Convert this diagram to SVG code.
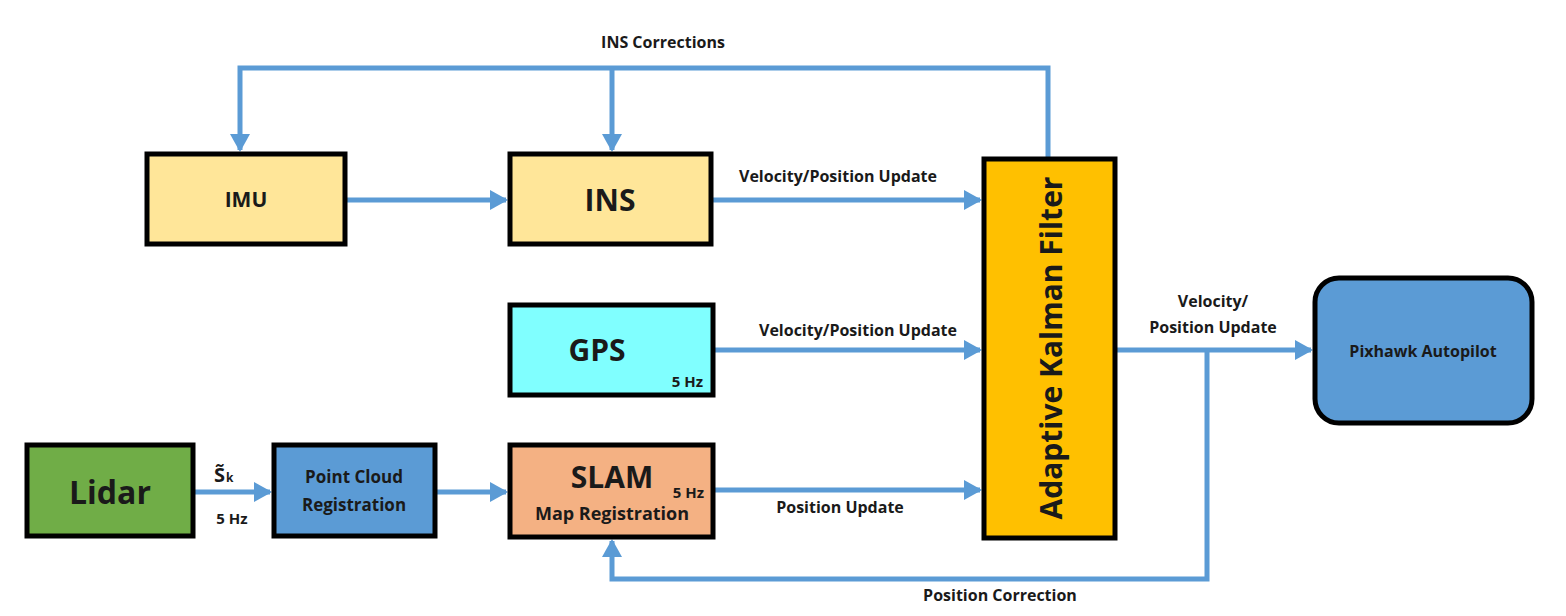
<svg xmlns="http://www.w3.org/2000/svg" width="1566" height="616" viewBox="0 0 1566 616">
<style>
.box{stroke:#000;stroke-width:5}
.t{font-family:"Open Sans","Liberation Sans",sans-serif;font-weight:bold;fill:#1a1a1a}
.c{stroke:#5b9bd5;stroke-width:5;fill:none}
</style>
<defs>
<marker id="ah" viewBox="0 0 18 20" refX="16" refY="10" markerWidth="18" markerHeight="20" markerUnits="userSpaceOnUse" orient="auto">
<path d="M0,0 L18,10 L0,20 Z" fill="#5b9bd5"/>
</marker>
</defs>
<rect width="1566" height="616" fill="#fff"/>
<g id="connectors">
<polyline class="c" points="1048,157 1048,68 240,68 240,150" marker-end="url(#ah)"/>
<polyline class="c" points="612,68 612,150" marker-end="url(#ah)"/>
<line class="c" x1="347" y1="200" x2="506" y2="200" marker-end="url(#ah)"/>
<line class="c" x1="713" y1="200" x2="980" y2="200" marker-end="url(#ah)"/>
<line class="c" x1="713" y1="350" x2="980" y2="350" marker-end="url(#ah)"/>
<line class="c" x1="713" y1="490" x2="980" y2="490" marker-end="url(#ah)"/>
<line class="c" x1="195" y1="492" x2="270" y2="492" marker-end="url(#ah)"/>
<line class="c" x1="437" y1="492" x2="506" y2="492" marker-end="url(#ah)"/>
<line class="c" x1="1117" y1="350" x2="1311" y2="350" marker-end="url(#ah)"/>
<polyline class="c" points="1207,350 1207,579 612,579 612,541" marker-end="url(#ah)"/>
<text class="t" x="663" y="48" font-size="16" text-anchor="middle">INS Corrections</text>
<text class="t" x="838" y="182" font-size="16" text-anchor="middle">Velocity/Position Update</text>
<text class="t" x="858" y="336" font-size="16" text-anchor="middle">Velocity/Position Update</text>
<text class="t" x="840" y="513" font-size="16" text-anchor="middle">Position Update</text>
<text class="t" x="1000" y="601" font-size="16" text-anchor="middle">Position Correction</text>
<text class="t" x="1213" y="307" font-size="16" text-anchor="middle">Velocity/</text>
<text class="t" x="1213" y="333" font-size="16" text-anchor="middle">Position Update</text>
<text class="t" x="214" y="482" font-size="20">S&#x303;<tspan font-size="12" dx="1">k</tspan></text>
<text class="t" x="232" y="524" font-size="15" text-anchor="middle">5 Hz</text>
</g>
<g id="imu">
<rect class="box" x="147" y="154" width="198" height="90" fill="#ffe699"/>
<text class="t" x="246" y="207" font-size="21" text-anchor="middle">IMU</text>
</g>
<g id="ins">
<rect class="box" x="510" y="154" width="201" height="90" fill="#ffe699"/>
<text class="t" x="610" y="211" font-size="30" text-anchor="middle">INS</text>
</g>
<g id="gps">
<rect class="box" x="510" y="305" width="203" height="90" fill="#80ffff"/>
<text class="t" x="597" y="361" font-size="30" text-anchor="middle">GPS</text>
<text class="t" x="703" y="387" font-size="15" text-anchor="end">5 Hz</text>
</g>
<g id="slam">
<rect class="box" x="510" y="445" width="203" height="92" fill="#f4b183"/>
<text class="t" x="612" y="488" font-size="30" text-anchor="middle">SLAM</text>
<text class="t" x="704" y="498" font-size="15" text-anchor="end">5 Hz</text>
<text class="t" x="612" y="520" font-size="18" text-anchor="middle">Map Registration</text>
</g>
<g id="lidar">
<rect class="box" x="27" y="445" width="166" height="91" fill="#70ad47"/>
<text class="t" x="110" y="504" font-size="32" text-anchor="middle">Lidar</text>
</g>
<g id="pointcloud">
<rect class="box" x="274" y="445" width="161" height="91" fill="#5b9bd5"/>
<text class="t" x="354" y="483" font-size="17" text-anchor="middle">Point Cloud</text>
<text class="t" x="354" y="511" font-size="17" text-anchor="middle">Registration</text>
</g>
<g id="akf">
<rect class="box" x="984" y="159" width="131" height="379" fill="#ffc000"/>
<text class="t" transform="translate(1062,348) rotate(-90)" font-size="30" text-anchor="middle">Adaptive Kalman Filter</text>
</g>
<g id="pixhawk">
<rect class="box" x="1315" y="278" width="217" height="145" rx="24" fill="#5b9bd5"/>
<text class="t" x="1423" y="357" font-size="16" text-anchor="middle">Pixhawk Autopilot</text>
</g>
</svg>
